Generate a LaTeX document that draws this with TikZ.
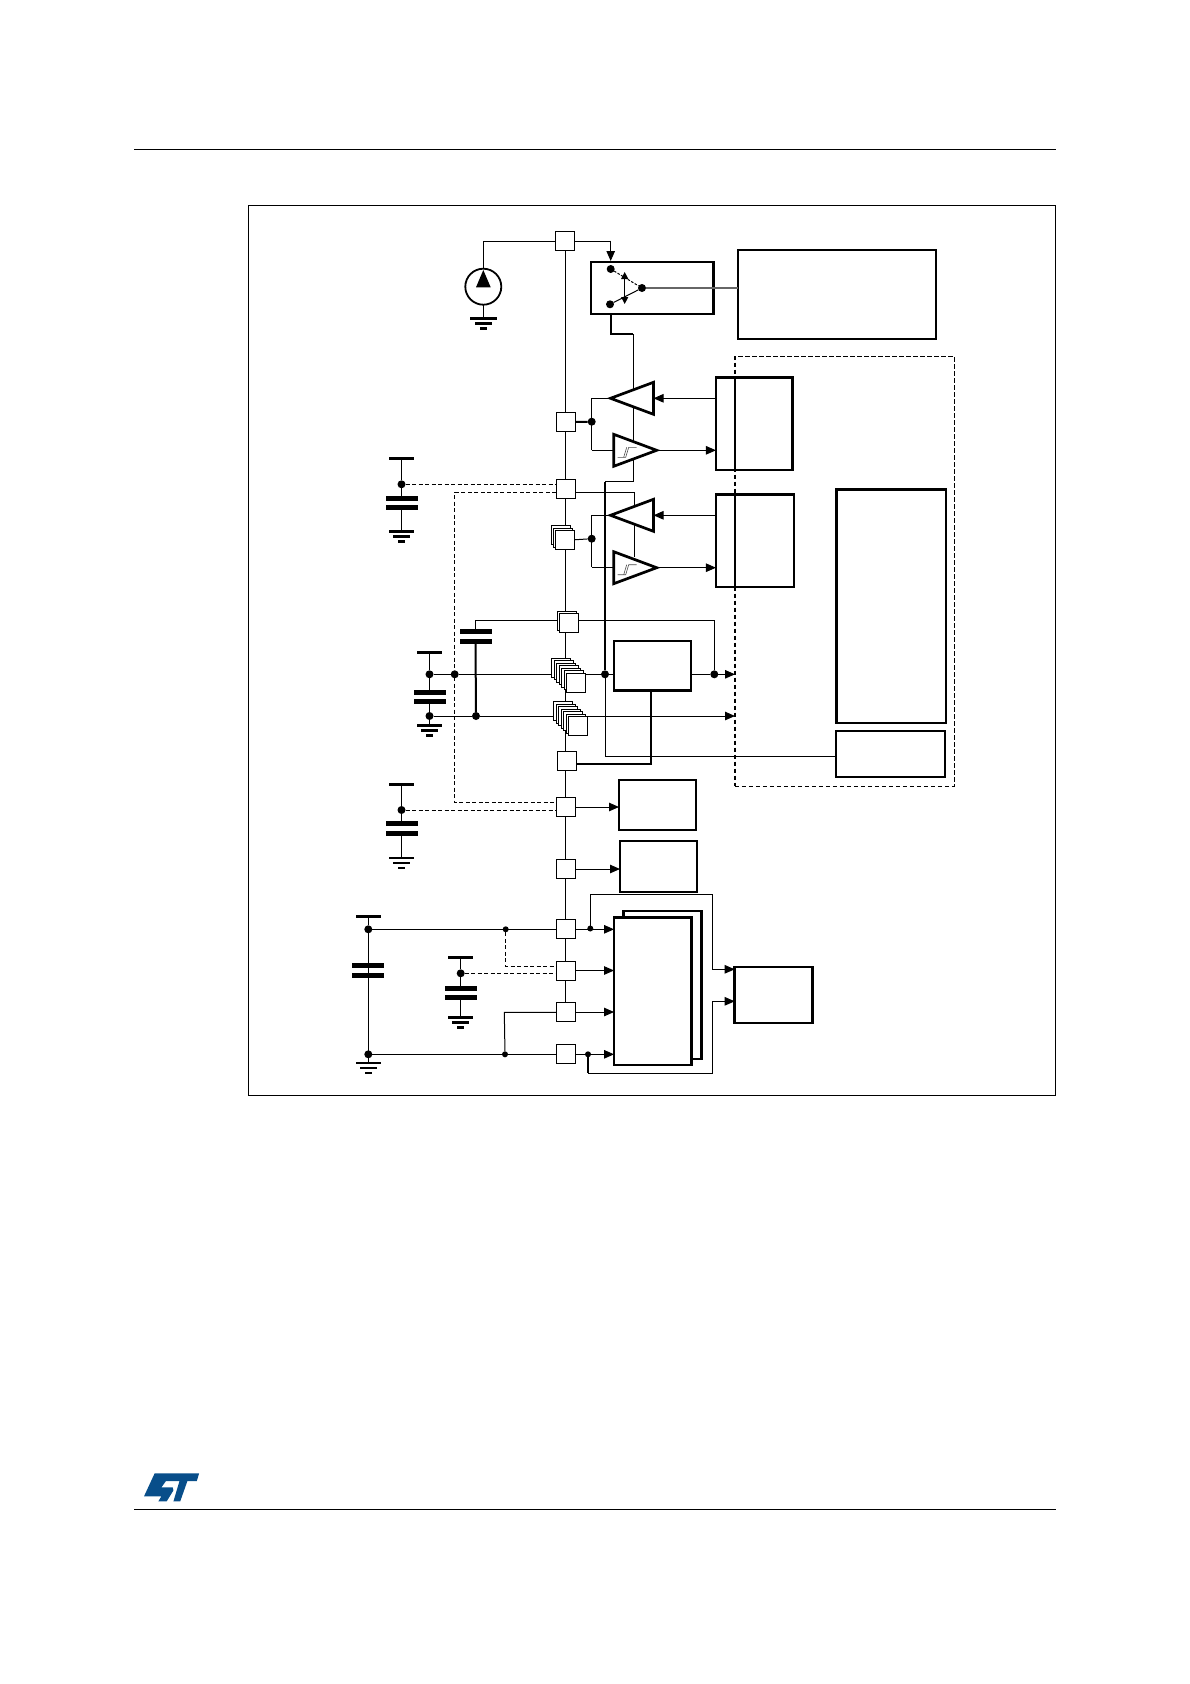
\documentclass[tikz,border=0pt]{standalone}
\usetikzlibrary{arrows.meta,shapes.geometric}
\pgfdeclarelayer{wires}
\pgfsetlayers{wires,main}

\definecolor{stblue}{RGB}{8,78,138}

\tikzset{
  wire/.style={line width=1pt},
  heavy/.style={line width=2pt},
  dashwire/.style={line width=1pt,dash pattern=on 4pt off 2.5pt},
  padbox/.style={draw,fill=white,line width=0.9pt,minimum size=19pt,inner sep=0pt,outer sep=0pt},
  block/.style={draw,fill=white,line width=2.6pt,inner sep=0pt,outer sep=0pt},
  outline/.style={draw,inner sep=0pt,outer sep=0pt},
  boxsize/.style 2 args={minimum width=#1pt,minimum height=#2pt},
  jdot/.style={circle,fill=black,minimum size=8pt,inner sep=0pt,outer sep=0pt},
  sdot/.style={circle,fill=black,minimum size=6pt,inner sep=0pt,outer sep=0pt},
  bar/.style={fill=black,minimum height=2.6pt,inner sep=0pt,outer sep=0pt},
  plate/.style={fill=black,minimum width=32pt,minimum height=5pt,inner sep=0pt,outer sep=0pt},
  buffer/.style={isosceles triangle,isosceles triangle stretches,shape border rotate=#1,draw,fill=white,
    line width=2.7pt,inner sep=0pt,outer sep=0pt,minimum width=32pt,minimum height=43pt},
}

% ground symbol below a bar
\newcommand{\gndtail}[1]{
  \node[bar,minimum width=17pt] (#1b) at ([yshift=-5pt]#1.center) {};
  \node[bar,minimum width=7pt] (#1c) at ([yshift=-10pt]#1.center) {};
}
% name, x, supply bar, first dot, two plates, ground bar
\newcommand{\capset}[7]{
  \node[bar,minimum width=25pt] (vdd#1) at (#2,#3) {};
  \node[jdot] (dot#1) at (#2,#4) {};
  \node[plate] (plate#1a) at (#2,#5) {};
  \node[plate] (plate#1b) at (#2,#6) {};
  \node[bar,minimum width=25pt] (gnd#1) at (#2,#7) {};
  \gndtail{gnd#1}
  \begin{pgfonlayer}{wires}
    \draw[wire] (vdd#1) -- (dot#1) -- (plate#1a);
    \draw[wire] (plate#1b) -- (gnd#1);
  \end{pgfonlayer}
}
\newcommand{\schmitt}[1]{
  \draw[line width=0.6pt,black!70,shift={(#1)}] (-39,7) -- (-31,7) -- (-28,-3) -- (-20,-3);
  \draw[line width=0.6pt,black!70,shift={(#1)}] (-33,7) -- (-30,-3);
}

\begin{document}
\begin{tikzpicture}[x=1pt,y=-1pt,>={Triangle[length=10pt,width=8.5pt]}]

\useasboundingbox (0,0) rectangle (1190,1684);

% page rules and frame
\coordinate (headl) at (134,149.5);
\coordinate (headr) at (1056,149.5);
\coordinate (footl) at (134,1509.5);
\coordinate (footr) at (1056,1509.5);
\draw[line width=0.7pt] (headl) -- (headr);
\draw[line width=0.7pt] (footl) -- (footr);
\node[outline,line width=0.7pt,boxsize={807}{890}] (frame) at (651.5,650) {};

% pads
\node[padbox] (padtop) at (565,241) {};
\node[padbox] (padio) at (566,422) {};
\node[padbox] (padvdd) at (565.5,489) {};
\node[padbox] (padfb) at (567,760.7) {};
\node[padbox] (padusb) at (566,807) {};
\node[padbox] (padbat) at (566,869) {};
\node[padbox] (padan) at (566,929.3) {};
\node[padbox] (padref2) at (566,970.5) {};
\node[padbox] (padin) at (566,1012) {};
\node[padbox] (padss) at (566,1054.3) {};

% stacked pads
\foreach \k in {0,1,2} \node[padbox] (stackio\k) at (561+\k*1.9,535.3+\k*2.25) {};
\node[padbox] (padback) at (567,621) {};
\node[padbox] (padref) at (569,622.5) {};
\foreach \k in {0,...,6} \node[padbox] (stackvdd\k) at (561.2+\k*2.47,667.8+\k*2.5) {};
\foreach \k in {0,...,6} \node[padbox] (stackss\k) at (563.2+\k*2.47,711+\k*2.5) {};

% blocks
\node[block,boxsize={122.3}{52}] (switch) at (652.2,288) {};
\node[block,line width=2pt,boxsize={198}{88.7}] (ctrl) at (837,294.3) {};
\node[block,boxsize={76.7}{92.7}] (ioa) at (754.3,423.6) {};
\node[block,line width=1.7pt,boxsize={77.7}{92.4}] (iob) at (754.8,540.5) {};
\node[block,boxsize={109.5}{233.7}] (core) at (891.2,606.2) {};
\node[block,line width=2pt,boxsize={109}{46.6}] (lowbox) at (890.5,754) {};
\node[block,boxsize={77}{49.7}] (vreg) at (652.5,665.9) {};
\node[block,boxsize={77}{50}] (boxe) at (657.5,805) {};
\node[block,boxsize={77}{51}] (boxf) at (658.5,866.5) {};
\node[block,boxsize={77.6}{148}] (pageb) at (662.5,985) {};
\node[block,boxsize={77.3}{147.7}] (pagea) at (652.7,991.2) {};
\node[block,boxsize={77.6}{56}] (adc) at (773.5,995) {};
\node[outline,line width=1.1pt,dash pattern=on 4.5pt off 2.5pt,boxsize={219.5}{429.7}] (digital) at (844.7,571.2) {};

% io buffers
\node[buffer=180,anchor=apex] (bufa) at (610.5,398.3) {};
\node[buffer=0,anchor=apex] (schma) at (656.7,450.3) {};
\node[buffer=180,anchor=apex] (bufb) at (610.5,515.3) {};
\node[buffer=0,anchor=apex] (schmb) at (656.7,567.7) {};
\schmitt{schma.apex}
\schmitt{schmb.apex}

% current source
\node[circle,draw,line width=1.8pt,minimum size=36pt,inner sep=0pt,outer sep=0pt,fill=white] (isrc) at (483.3,286.7) {};
\coordinate (isrctip) at (483.3,270);
\fill (isrctip) -- (476,287.3) -- (490.7,287.3) -- cycle;
\node[bar,minimum width=27pt] (gndsrc) at (483.3,318.7) {};
\gndtail{gndsrc}

% decoupling
\capset{A}{401.5}{458.3}{484.3}{498}{507.5}{531.3}
\capset{B}{429.5}{652.3}{674.3}{692}{701.3}{725.5}
\capset{C}{401.5}{784.3}{810}{823.3}{833.3}{858}
\capset{D}{460.7}{957.3}{973.3}{988}{997.3}{1017.7}
\capset{E}{368.3}{916.3}{929.3}{965.3}{975.3}{1063}
\node[plate] (plateFa) at (475.5,631.7) {};
\node[plate] (plateFb) at (475.5,641) {};

% junctions
\node[jdot] (dotio) at (591.7,421.7) {};
\node[jdot] (dotiob) at (591.7,538.7) {};
\node[jdot] (dotBb) at (429.5,716) {};
\node[jdot] (dotvdd) at (454.7,674.3) {};
\node[jdot] (dotcap) at (476,716) {};
\node[jdot] (dotreg) at (605,674.3) {};
\node[jdot] (dotout) at (714.3,674.3) {};
\node[jdot] (dotEb) at (368.3,1054.3) {};
\node[sdot] (dotan) at (505.7,929.3) {};
\node[sdot] (dotss) at (505,1054.3) {};
\node[sdot] (dotana) at (590.3,928.5) {};
\node[sdot] (dotssa) at (588,1054.3) {};

% analog switch
\node[jdot] (swa) at (610.7,269) {};
\node[jdot] (swb) at (610,304.3) {};
\node[jdot] (swc) at (642,288) {};
\coordinate (swup) at (624.7,272);
\coordinate (swdn) at (624.7,304);
\coordinate (swin) at (610.7,240.7);
\coordinate (swtop) at (610.7,261);
\coordinate (swbot) at (610.7,314);
\coordinate (swturn) at (610.7,334);
\coordinate (railtop) at (633.3,334);
\coordinate (railbot) at (633.3,481.7);
\coordinate (railin) at (605,481.7);
\draw[wire,dash pattern=on 2.5pt off 1.5pt] (swa) -- (swc);
\draw[wire] (swb) -- (swc);
\draw[line width=1.2pt,black!60] (swc) -- (swc -| ctrl.west);
\draw[wire,<->,>={Triangle[length=7pt,width=7pt]}] (swup) -- (swdn);

% free ends
\coordinate (bustop) at (565.5,241);
\coordinate (busbot) at (565.5,1012);
\coordinate (iodiv) at (735,377.3);
\coordinate (vfold) at (591.7,398.3);
\coordinate (vfolds) at (591.7,450.3);
\coordinate (vfoldb) at (591.7,515.3);
\coordinate (vfoldc) at (591.7,567.3);
\coordinate (vddfold) at (634.3,492.3);
\coordinate (vddend) at (634.3,557);
\coordinate (capfold) at (475.5,620.3);
\coordinate (outfold) at (714.3,620.3);
\coordinate (arrowa) at (735,674.3);
\coordinate (arrowb) at (735,716);
\coordinate (fbleft) at (605,756);
\coordinate (dropb) at (651.3,763.7);
\coordinate (dashtop) at (454.7,492.3);
\coordinate (dashbot) at (454.7,802.3);
\coordinate (dashan) at (505.7,966.3);
\coordinate (infold) at (504.3,1012.3);
\coordinate (topl) at (590.3,894.3);
\coordinate (topr) at (712.3,894.3);
\coordinate (topd) at (712.3,969.3);
\coordinate (botl) at (588,1073);
\coordinate (botr) at (712.3,1073);
\coordinate (botu) at (712.3,1001.3);
\coordinate (adca) at (734.7,969.3);
\coordinate (adcb) at (734.7,1001.3);

\begin{pgfonlayer}{wires}
% bus
\draw[wire] (bustop) -- (busbot);
% current source and switch
\draw[wire] (padtop.west) -| (isrc.north);
\draw[wire] (isrc.south) -- (gndsrc);
\draw[wire] (padtop.east) -| (swin);
\draw[wire,->] (swin) -- (swtop);
\draw[heavy] (swbot) -- (swturn) -- (railtop);
\draw[wire] (railtop) -- (railbot) -- (railin);
\draw[heavy] (railin) -- (dotreg);
% first io
\draw[heavy] (padio.east) -- (dotio);
\draw[wire] (vfold) -- (vfolds);
\draw[wire] (vfold) -- (bufa.apex);
\draw[wire] (vfolds) -- (vfolds -| schma.lower side);
\draw[wire,->] (ioa.west |- vfold) -- (bufa.lower side);
\draw[wire,->] (schma.apex) -- (ioa.west |- schma.apex);
% second io
\draw[wire] (stackio2.east) -- (dotiob);
\draw[wire] (vfoldb) -- (vfoldc);
\draw[wire] (vfoldb) -- (bufb.apex);
\draw[wire] (vfoldc) -- (vfoldc -| schmb.lower side);
\draw[wire,->] (iob.west |- vfoldb) -- (bufb.lower side);
\draw[wire,->] (schmb.apex) -- (iob.west |- schmb.apex);
\draw[wire] (padvdd.east |- vddfold) -- (vddfold) -- (vddend);
% supplies
\draw[wire] (capfold -| padref.center) -- (capfold) -- (plateFa);
\draw[wire] (capfold -| padref.center) -- (outfold) -- (dotout);
\draw[heavy] (plateFb) -- (dotcap);
\draw[wire] (dotB) -- (dotvdd) -- (dotreg) -- (dotreg -| vreg.west);
\draw[wire] (dotout -| vreg.east) -- (dotout);
\draw[wire,->] (dotout) -- (arrowa);
\draw[wire] (dotBb) -- (dotcap);
\draw[wire,->] (dotcap) -- (arrowb);
\draw[wire] (dotreg) -- (fbleft) -- (fbleft -| lowbox.west);
\draw[heavy] (vreg.south -| dropb) -- (dropb) -- (padfb.east |- dropb);
% reference dashes
\draw[dashwire] (dotA) -- (padvdd.west |- dotA);
\draw[dashwire] (padvdd.west |- dashtop) -- (dashtop) -- (dashbot) -- (padusb.west |- dashbot);
\draw[dashwire] (dotC) -- (padusb.west |- dotC);
\draw[dashwire] (dotan) -- (dashan) -- (padref2.west |- dashan);
\draw[dashwire] (dotD) -- (padref2.west |- dotD);
% adc inputs
\draw[wire] (dotE) -- (dotEb);
\draw[wire] (dotEb) -- (gndE);
\draw[wire] (dotE) -- (padan.west);
\draw[wire] (dotEb) -- (padss.west);
\draw[wire] (dotss) -- (infold) -- (padin.west |- infold);
\draw[wire,->] (padusb.east) -- (boxe.west |- padusb.east);
\draw[wire,->] (padbat.east) -- (boxf.west |- padbat.east);
\draw[wire,->] (padan.east) -- (pagea.west |- padan.east);
\draw[wire,->] (padref2.east) -- (pagea.west |- padref2.east);
\draw[wire,->] (padin.east) -- (pagea.west |- padin.east);
\draw[wire,->] (padss.east) -- (pagea.west |- padss.east);
\draw[wire] (dotana) -- (topl) -- (topr) -- (topd);
\draw[wire,->] (topd) -- (adca);
\draw[heavy] (dotssa) -- (botl);
\draw[wire] (botl) -- (botr) -- (botu);
\draw[wire,->] (botu) -- (adcb);
\end{pgfonlayer}

% thick edges of the io blocks
\draw[line width=2.6pt] (ioa.north -| iodiv) -- (ioa.south -| iodiv);
\draw[line width=2.6pt] (iob.north -| iodiv) -- (iob.south -| iodiv);
\draw[line width=2.6pt] (iob.south west) -- (iob.north west) -- (iob.north east);

% logo
\begin{scope}[shift={(139.5,1468.4)},x=0.377pt,y=-0.423pt]
\fill[stblue] (40,12) -- (158,12) -- (152,30) -- (127,30) -- (108,78) -- (90,78) -- (106,30) -- (70,30) -- (58,45) -- (88,45) -- (90,52) -- (72,78) -- (50,78) -- (58,66) -- (12,66) -- cycle;
\end{scope}

\end{tikzpicture}
\end{document}
